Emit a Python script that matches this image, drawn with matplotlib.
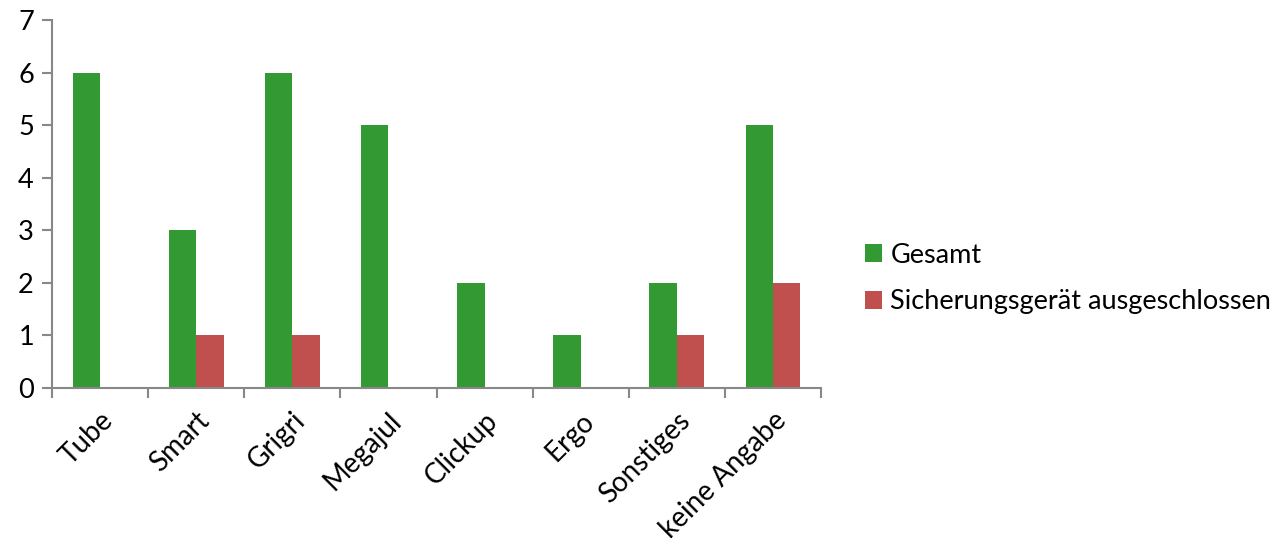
import matplotlib
matplotlib.use("Agg")
import matplotlib.pyplot as plt
import numpy as np

categories = ["Tube", "Smart", "Grigri", "Megajul", "Clickup", "Ergo", "Sonstiges", "keine Angabe"]
gesamt = [6, 3, 6, 5, 2, 1, 2, 5]
ausgeschlossen = [0, 1, 1, 0, 0, 0, 1, 2]
series_names = ["Gesamt", "Sicherungsgerät ausgeschlossen"]

plt.rcParams['font.family'] = ['Lato', 'DejaVu Sans']

fig = plt.figure(figsize=(12.81, 5.41), dpi=100)
ax = fig.add_axes([0.0406, 0.283, 0.6003, 0.680])

x = np.arange(len(categories))
w = 0.285
ax.bar(x - w/2, gesamt, w, color="#339933", label=series_names[0])
ax.bar(x + w/2, ausgeschlossen, w, color="#C0504D", label=series_names[1])

ax.set_xlim(-0.5, len(categories) - 0.5)
ax.set_ylim(0, 7)
ax.set_yticks(range(0, 8))
ax.set_xticks(np.arange(-0.5, len(categories), 1.0), minor=False)
ax.set_xticklabels([])
ax.set_xticks(x, minor=True)
ax.set_xticklabels(categories, minor=True, rotation=45, ha="right", va="top",
                   rotation_mode="anchor", fontsize=20)
ax.tick_params(axis="x", which="minor", length=0, pad=14)
ax.tick_params(axis="x", which="major", length=7, color="#888888", width=1.5, direction="out")
ax.tick_params(axis="y", length=7, color="#888888", width=1.5, direction="out", labelsize=19.5, pad=6)

for s in ["top", "right"]:
    ax.spines[s].set_visible(False)
for s in ["left", "bottom"]:
    ax.spines[s].set_color("#888888")
    ax.spines[s].set_linewidth(1.5)

fig.legend(loc="center left", bbox_to_anchor=(0.656, 0.485), frameon=False,
           fontsize=19.5, handlelength=0.65, handleheight=0.65, handletextpad=0.3,
           labelspacing=0.8)

fig.savefig("out.png", dpi=100)
